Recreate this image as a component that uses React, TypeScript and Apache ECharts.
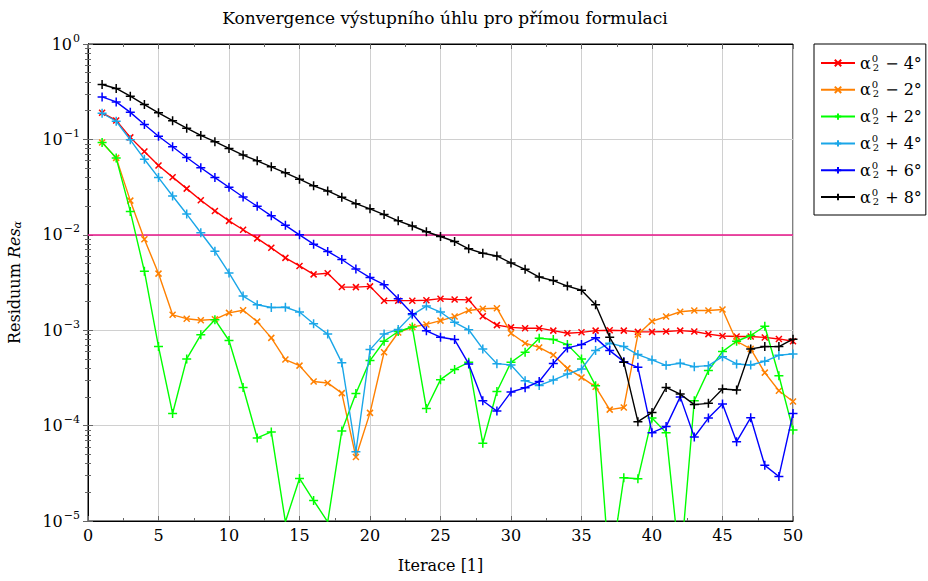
import React, { useEffect, useRef } from "react";
import * as echarts from "echarts";

const titleText = "Konvergence výstupního úhlu pro přímou formulaci";
const xName = "Iterace [1]";

const iterations = [
  1, 2, 3, 4, 5, 6, 7, 8, 9, 10, 11, 12, 13, 14, 15, 16, 17, 18, 19, 20, 21, 22, 23, 24, 25,
  26, 27, 28, 29, 30, 31, 32, 33, 34, 35, 36, 37, 38, 39, 40, 41, 42, 43, 44, 45, 46, 47, 48, 49, 50,
];

const resMinus4 = [
  0.19, 0.158, 0.105, 0.0748, 0.0532, 0.0402, 0.0305, 0.023, 0.0178, 0.014, 0.0113, 0.00917, 0.0073,
  0.00573, 0.00472, 0.00385, 0.00395, 0.00284, 0.00283, 0.00288, 0.00204, 0.00204, 0.00204, 0.00206,
  0.00214, 0.0021, 0.00208, 0.0014, 0.00113, 0.00107, 0.00105, 0.00105, 0.00099, 0.00093, 0.00095,
  0.00099, 0.001, 0.00099, 0.00096, 0.00096, 0.00097, 0.00099, 0.00097, 0.00091, 0.00087, 0.00086,
  0.00086, 0.00084, 0.00081, 0.000766,
];

const resMinus2 = [
  0.093, 0.064, 0.0228, 0.009, 0.00392, 0.00145, 0.00132, 0.00127, 0.0013, 0.00152, 0.00162, 0.00123,
  0.000831, 0.000492, 0.000425, 0.00029, 0.00028, 0.000219, 0.0000468, 0.000136, 0.000587, 0.000946,
  0.00108, 0.00115, 0.00126, 0.00139, 0.00161, 0.00168, 0.0017, 0.00093, 0.00073, 0.00066, 0.00055,
  0.000398, 0.00032, 0.000255, 0.000147, 0.000155, 0.0009, 0.00124, 0.00139, 0.00156, 0.00161, 0.00161,
  0.00165, 0.000766, 0.000637, 0.000359, 0.000232, 0.000179,
];

const resPlus2 = [
  0.093, 0.0637, 0.0176, 0.00415, 0.000673, 0.000134, 0.0005, 0.000895, 0.00129, 0.00078, 0.000251,
  0.0000743, 0.0000859, 0.0000098, 0.0000279, 0.0000164, 0.0000098, 0.0000879, 0.000217, 0.00048,
  0.000766, 0.00097, 0.00108, 0.000151, 0.000303, 0.000388, 0.00046, 0.0000653, 0.000228, 0.00046,
  0.000587, 0.000824, 0.0008, 0.000706, 0.0005, 0.000262, 0.0000028, 0.0000284, 0.0000277, 0.00012,
  0.0000844, 0.0000032, 0.000182, 0.000377, 0.000597, 0.000766, 0.00088, 0.0011, 0.000333, 0.0000901,
];

const resPlus4 = [
  0.188, 0.155, 0.099, 0.062, 0.0398, 0.0255, 0.0165, 0.0105, 0.00673, 0.00398, 0.00228, 0.00185,
  0.00173, 0.00174, 0.00155, 0.00117, 0.00091, 0.000457, 0.0000532, 0.000626, 0.00091, 0.00102, 0.00145,
  0.00179, 0.00155, 0.00121, 0.00101, 0.000637, 0.000446, 0.000432, 0.000296, 0.000264, 0.0003,
  0.000347, 0.000392, 0.000611, 0.00073, 0.000673, 0.000555, 0.000488, 0.000428, 0.00045, 0.000415,
  0.000425, 0.000528, 0.000443, 0.000432, 0.000472, 0.000546, 0.000564,
];

const resPlus6 = [
  0.279, 0.247, 0.192, 0.143, 0.108, 0.0838, 0.0647, 0.0504, 0.0398, 0.0315, 0.0249, 0.0199, 0.0158,
  0.01256, 0.01, 0.00798, 0.00669, 0.00551, 0.00438, 0.00356, 0.003, 0.00214, 0.00149, 0.000986,
  0.000844, 0.000798, 0.000443, 0.000182, 0.000142, 0.000225, 0.000249, 0.00029, 0.000447, 0.000652,
  0.000706, 0.000831, 0.000611, 0.000468, 0.000408, 0.0000844, 0.0000976, 0.0002, 0.000076, 0.00012,
  0.000168, 0.0000679, 0.000121, 0.0000383, 0.0000293, 0.000134,
];

const resPlus8 = [
  0.376, 0.342, 0.284, 0.232, 0.19, 0.157, 0.131, 0.11, 0.0946, 0.0804, 0.0685, 0.0597, 0.0516, 0.0446,
  0.0383, 0.0326, 0.0288, 0.0247, 0.0212, 0.0187, 0.0163, 0.014, 0.01236, 0.01076, 0.0096, 0.0085,
  0.00713, 0.0064, 0.006, 0.00507, 0.00435, 0.00361, 0.00331, 0.0029, 0.00262, 0.00185, 0.000844,
  0.00046, 0.00011, 0.000137, 0.000251, 0.000214, 0.000166, 0.000171, 0.000242, 0.000236, 0.000637,
  0.000673, 0.000673, 0.000805,
];

const threshold = 0.01;

const seriesNames = ["α₂⁰ − 4°", "α₂⁰ − 2°", "α₂⁰ + 2°", "α₂⁰ + 4°", "α₂⁰ + 6°", "α₂⁰ + 8°"];
const seriesOffsets = ["− 4°", "− 2°", "+ 2°", "+ 4°", "+ 6°", "+ 8°"];
const seriesData = [resMinus4, resMinus2, resPlus2, resPlus4, resPlus6, resPlus8];
const seriesColors = ["#ff0000", "#ff8000", "#00ff00", "#1aa6e8", "#0000ff", "#000000"];
const seriesMarkers = ["cross", "cross", "plus", "plus", "plus", "plus"];

const FONT = "DejaVu Serif";
const CROSS = "path://M0,0L10,10M10,0L0,10";
const PLUS = "path://M5,0L5,10M0,5L10,5";

export default function App() {
  const ref = useRef<HTMLDivElement>(null);

  useEffect(() => {
    if (!ref.current) return;
    const chart = echarts.init(ref.current, undefined, { renderer: "svg" });

    const series: any[] = seriesData.map((vals, i) => ({
      name: seriesNames[i],
      type: "line",
      data: iterations.map((x, j) => [x, vals[j]]),
      symbol: seriesMarkers[i] === "cross" ? CROSS : PLUS,
      symbolSize: seriesMarkers[i] === "cross" ? 6 : 9,
      showSymbol: true,
      showAllSymbol: true,
      clip: true,
      color: seriesColors[i],
      lineStyle: { color: seriesColors[i], width: 1.4 },
      itemStyle: { color: seriesColors[i], borderColor: seriesColors[i], borderWidth: 1.5 },
      emphasis: { disabled: true },
      z: 3 + i,
    }));

    series[0].markLine = {
      silent: true,
      symbol: "none",
      label: { show: false },
      lineStyle: { color: "#e8168a", width: 1.5, type: "solid" },
      data: [{ yAxis: threshold }],
      z: 2,
    };

    const yLabel = (v: number) => {
      const e = Math.round(Math.log10(v));
      const s = e === 0 ? "0" : "−" + String(-e);
      return `{b|10}{s|${s}}`;
    };

    const axisFontRich = {
      b: { fontFamily: FONT, fontSize: 16, color: "#000", lineHeight: 20 },
      s: { fontFamily: FONT, fontSize: 11, color: "#000", lineHeight: 20, padding: [0, 0, 12, 1] },
    };

    const legendFormatter = (name: string) => {
      const i = seriesNames.indexOf(name);
      return `{a|α}{sp|0}{sb|2}{t|${seriesOffsets[i]}}`;
    };

    chart.setOption({
      animation: false,
      backgroundColor: "#ffffff",
      title: {
        text: titleText,
        left: 440,
        top: 4,
        textAlign: "center",
        textStyle: { fontFamily: FONT, fontSize: 17, fontWeight: "normal", color: "#000" },
      },
      grid: {
        left: 88,
        right: 135,
        top: 44,
        bottom: 60,
        show: true,
        borderColor: "#000",
        borderWidth: 1,
        backgroundColor: "transparent",
        outerBoundsMode: "none",
        containLabel: false,
      },
      legend: {
        orient: "vertical",
        left: 814,
        top: 44,
        padding: [9, 4, 8, 6],
        itemGap: 6.8,
        itemWidth: 34,
        itemHeight: 8,
        borderColor: "#000",
        borderWidth: 1,
        borderRadius: 0,
        backgroundColor: "#fff",
        selectedMode: false,
        formatter: legendFormatter,
        textStyle: {
          fontFamily: FONT,
          color: "#000",
          rich: {
            a: { fontFamily: FONT, fontSize: 16, lineHeight: 20, color: "#000" },
            sp: { fontFamily: FONT, fontSize: 10, lineHeight: 20, color: "#000", width: 0, padding: [0, 0, 10, 1] },
            sb: { fontFamily: FONT, fontSize: 10, lineHeight: 20, color: "#000", padding: [8, 0, 0, 1] },
            t: { fontFamily: FONT, fontSize: 16, lineHeight: 20, color: "#000", padding: [0, 0, 0, 6] },
          },
        },
        data: seriesNames,
      },
      xAxis: [
        {
          type: "value",
          min: 0,
          max: 50,
          interval: 5,
          position: "bottom",
          name: xName,
          nameLocation: "middle",
          nameGap: 36,
          nameTextStyle: { fontFamily: FONT, fontSize: 16, color: "#000" },
          axisLine: { show: true, lineStyle: { color: "#000", width: 1 } },
          axisTick: { show: true, inside: true, length: 5, lineStyle: { color: "#666" } },
          minorTick: { show: true, splitNumber: 2, length: 3, lineStyle: { color: "#666" } },
          axisLabel: { fontFamily: FONT, fontSize: 16, color: "#000", margin: 6 },
          splitLine: { show: true, lineStyle: { color: "#d0d0d0", width: 1 } },
        },
        {
          type: "value",
          min: 0,
          max: 50,
          interval: 5,
          position: "top",
          axisLine: { show: true, lineStyle: { color: "#000", width: 1 } },
          axisTick: { show: true, inside: true, length: 5, lineStyle: { color: "#666" } },
          minorTick: { show: true, splitNumber: 2, length: 3, lineStyle: { color: "#666" } },
          axisLabel: { show: false },
          splitLine: { show: false },
        },
      ],
      yAxis: [
        {
          type: "log",
          logBase: 10,
          min: 1e-5,
          max: 1,
          position: "left",
          name: "{r|Residuum }{i|Res}{sb|α}",
          nameLocation: "middle",
          nameGap: 64,
          nameRotate: 90,
          nameTextStyle: {
            rich: {
              r: { fontFamily: FONT, fontSize: 16, color: "#000", lineHeight: 20 },
              i: { fontFamily: FONT, fontSize: 16, fontStyle: "italic", color: "#000", lineHeight: 20 },
              sb: { fontFamily: FONT, fontSize: 11, fontStyle: "italic", color: "#000", lineHeight: 20, padding: [6, 0, 0, 0] },
            },
          },
          axisLine: { show: true, lineStyle: { color: "#000", width: 1 } },
          axisTick: { show: true, inside: true, length: 5, lineStyle: { color: "#666" } },
          minorTick: { show: true, splitNumber: 9, length: 3, lineStyle: { color: "#666" } },
          axisLabel: { formatter: yLabel, rich: axisFontRich, margin: 8 },
          splitLine: { show: true, lineStyle: { color: "#d0d0d0", width: 1 } },
        },
        {
          type: "log",
          logBase: 10,
          min: 1e-5,
          max: 1,
          position: "right",
          axisLine: { show: true, lineStyle: { color: "#000", width: 1 } },
          axisTick: { show: true, inside: true, length: 5, lineStyle: { color: "#666" } },
          minorTick: { show: true, splitNumber: 9, length: 3, lineStyle: { color: "#666" } },
          axisLabel: { show: false },
          splitLine: { show: false },
        },
      ],
      series,
    });

    return () => chart.dispose();
  }, []);

  return <div ref={ref} style={{ width: 928, height: 581, position: "absolute", left: 0, top: 0 }} />;
}
